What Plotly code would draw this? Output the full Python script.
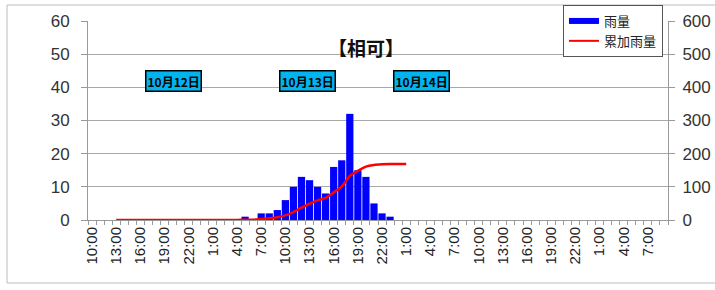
import plotly.graph_objects as go

# hourly categories: 10:00 on 10/12 through 9:00 on 10/15 (72 hours)
hours = [(10 + i) % 24 for i in range(72)]
tick_labels = [f"{h}:00" for h in hours]
label_step = 3

rain_idx = [19, 21, 22, 23, 24, 25, 26, 27, 28, 29, 30, 31, 32, 33, 34, 35, 36, 37]
rain_val = [1, 2, 2, 3, 6, 10, 13, 12, 10, 8, 16, 18, 32, 15, 13, 5, 2, 1]

cum_idx = list(range(3, 40))
cum_val = [0] * 16 + [1, 1, 3, 5, 8, 14, 24, 37, 49, 59, 67, 83, 101, 133, 148, 161, 166, 168, 169, 169, 169]

date_labels = ["10月12日", "10月13日", "10月14日"]
date_pos = [10.1, 26.7, 40.9]

title_text = "【相可】"

FONT = "Liberation Sans, Arial, Noto Sans CJK JP"
CJK = "Noto Sans CJK JP, Liberation Sans"

fig = go.Figure()
fig.add_trace(go.Bar(x=rain_idx, y=rain_val, marker=dict(color="#0000FF", line=dict(width=0)),
                     name="雨量", showlegend=False, yaxis="y"))
fig.add_trace(go.Scatter(x=cum_idx, y=cum_val, mode="lines", line=dict(color="#FF0000", width=2.5, shape="spline", smoothing=0.6),
                         name="累加雨量", showlegend=False, yaxis="y2"))
# legend entries drawn as lines like the reference
fig.add_trace(go.Scatter(x=[None], y=[None], mode="lines", line=dict(color="#0000FF", width=6), name="雨量"))
fig.add_trace(go.Scatter(x=[None], y=[None], mode="lines", line=dict(color="#FF0000", width=2), name="累加雨量"))

tv = list(range(0, 72, label_step))
tt = [tick_labels[i] for i in tv]

fig.update_layout(
    width=715, height=290,
    margin=dict(l=88, r=47, t=21, b=70, autoexpand=False),
    paper_bgcolor="white", plot_bgcolor="white",
    bargap=0.1,
    font=dict(family=FONT, color="#222222"),
    xaxis=dict(range=[-0.5, 71.5], tickvals=tv, ticktext=tt, tickangle=-90, automargin=False,
               tickfont=dict(size=15, family=FONT), ticks="", showgrid=False, zeroline=False,
               showline=True, linecolor="#999999", linewidth=1,
               minor=dict(tick0=-0.5, dtick=1, ticks="outside", ticklen=4, tickcolor="#999999", showgrid=False)),
    yaxis=dict(range=[0, 60], dtick=10, showgrid=True, gridcolor="#AAAAAA", gridwidth=1, zeroline=False,
               automargin=False, ticklabelstandoff=8,
               showline=True, linecolor="#999999", ticks="outside", ticklen=6, tickcolor="#999999",
               tickfont=dict(size=17, family=FONT, color="#333333")),
    yaxis2=dict(range=[0, 600], dtick=100, overlaying="y", side="right", showgrid=False, zeroline=False,
                automargin=False, ticklabelstandoff=4,
                showline=True, linecolor="#999999", ticks="outside", ticklen=6, tickcolor="#999999",
                tickfont=dict(size=17, family=FONT, color="#333333")),
    legend=dict(xref="container", yref="container", x=563 / 715, y=1 - 5 / 290, xanchor="left", yanchor="top",
                bgcolor="white", bordercolor="#555555", borderwidth=1, font=dict(size=13, family=CJK),
                itemwidth=30, tracegroupgap=0),
    showlegend=True,
)

fig.add_annotation(text="<b>" + title_text + "</b>", xref="paper", yref="paper", x=(366 - 88) / 580, y=(220 - 32) / 199,
                   showarrow=False, font=dict(size=19, family=CJK, color="#111111"))
for lab, p in zip(date_labels, date_pos):
    fig.add_annotation(text="<b>" + lab + "</b>", x=p, y=42.0, xref="x", yref="y", showarrow=False,
                       bgcolor="#00B4F0", bordercolor="#000000", borderwidth=1.5, borderpad=1,
                       font=dict(size=12, family=CJK, color="#000000"))

# outer chart border
fig.add_shape(type="rect", xref="paper", yref="paper",
              x0=(7 - 88) / 580, x1=(725 - 88) / 580, y0=(220 - 283) / 199, y1=(220 - 5) / 199,
              line=dict(color="#BBBBBB", width=1), layer="below")

fig.write_html("out.html", config={"displayModeBar": False},
               post_script="document.body.style.margin='0';document.body.style.overflow='hidden';")
